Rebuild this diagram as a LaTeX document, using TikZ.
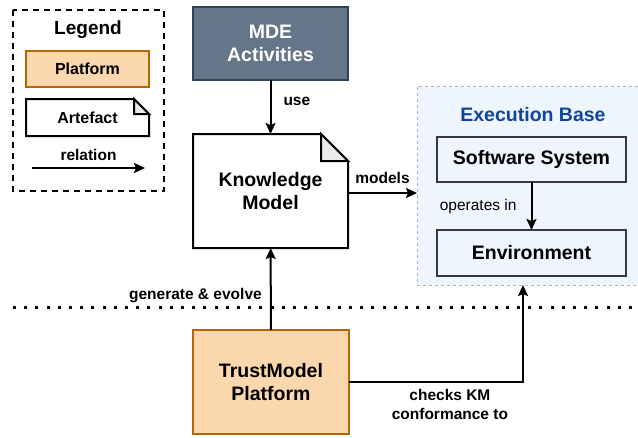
\documentclass[tikz,border=0pt]{standalone}
\usepackage{fontspec}
\setmainfont{Liberation Sans}
\usepackage{xcolor}
\usetikzlibrary{arrows.meta}
\definecolor{platfill}{HTML}{FAD7AC}
\definecolor{platdraw}{HTML}{B46504}
\definecolor{mdefill}{HTML}{647687}
\definecolor{mdedraw}{HTML}{314354}
\definecolor{execfill}{HTML}{EEF5FD}
\definecolor{execdraw}{HTML}{B3B3B3}
\definecolor{sysdraw}{HTML}{36393D}
\definecolor{titleblue}{HTML}{0F4699}
\newcommand{\bigfont}{\fontsize{19.5}{23}\selectfont\bfseries}
\newcommand{\smallfont}{\fontsize{15.5}{19}\selectfont}
% outline of an artefact (note with folded corner)
\newcommand{\drawnote}[2]{%
  \draw[line width=2pt, line join=miter] (#1.north west) -- ([xshift=-#2]#1.north east) -- ([yshift=-#2]#1.north east) -- (#1.south east) -- (#1.south west) -- cycle;
  \draw[line width=2pt, fill=black!8] ([xshift=-#2]#1.north east) -- ([xshift=-#2,yshift=-#2]#1.north east) -- ([yshift=-#2]#1.north east) -- cycle;
}
\tikzset{
    platform/.style = {rectangle, minimum width=156pt, minimum height=104pt, inner sep=0pt, outer sep=0pt, align=center, draw=platdraw, fill=platfill, line width=2pt, font=\bigfont},
    artefact/.style = {rectangle, minimum width=155pt, minimum height=114pt, inner sep=0pt, outer sep=0pt, align=center, font=\bigfont},
    activity/.style = {rectangle, minimum width=155pt, minimum height=73pt, inner sep=0pt, outer sep=0pt, align=center, draw=mdedraw, fill=mdefill, line width=2pt, text=white, font=\bigfont},
    sysbox/.style = {rectangle, minimum width=189pt, minimum height=45pt, inner sep=0pt, outer sep=0pt, align=center, draw=sysdraw, fill=execfill, line width=2.5pt, font=\bigfont},
    container/.style = {rectangle, inner sep=0pt, outer sep=0pt, draw=execdraw, fill=execfill, dashed, line width=1pt},
    lbl/.style = {font=\smallfont\bfseries, align=center, inner sep=0pt},
    arrow/.style = {line width=2pt, -{Stealth[length=11pt, width=10pt, inset=2pt]}}
}
\begin{document}
\begin{tikzpicture}[x=1pt, y=-1pt]
\useasboundingbox (0,0) rectangle (638,437);

% legend
\draw[line width=2pt, dash pattern=on 6pt off 5pt] (13,10) rectangle (164,191);
\node (legtitle) [lbl, font=\fontsize{19}{23}\selectfont\bfseries] at (88,30) {Legend};
\node (legplat) [platform, minimum width=123pt, minimum height=36pt, font=\fontsize{16}{19}\selectfont\bfseries] at (87.5,69) {Platform};
\node (legart) [artefact, minimum width=123pt, minimum height=37pt, font=\fontsize{16}{19}\selectfont\bfseries] at (87.5,117.5) {Artefact};
\drawnote{legart}{15pt}
\coordinate (legfrom) at (32,168);
\coordinate (legto) at (145,168);
\draw [arrow] (legfrom) -- (legto) node[lbl, midway, above=6pt] {relation};

% execution base
\node (exec) [container, minimum width=221pt, minimum height=199pt] at (527.5,185.5) {};
\node (exectitle) [font=\bigfont, text=titleblue, inner sep=0pt] at (533,115) {Execution Base};
\node (sws) [sysbox] at (531.5,159.5) {Software System};
\node (env) [sysbox, minimum height=46pt] at (531.5,253) {Environment};

% main artefacts
\node (mde) [activity] at (270.5,43.5) {MDE\\Activities};
\node (km) [artefact] at (270.5,191) {Knowledge\\Model};
\drawnote{km}{27pt}
\node (tmp) [platform] at (271,382) {TrustModel\\Platform};

% separator
\draw[line width=3pt, dash pattern=on 3pt off 8.2pt] (13,307) -- (638,307);

% relations
\draw [arrow] (mde) -- (km) node[lbl, pos=0.4, right=12pt] {use};
\draw [arrow] (km.east |- 0,193) -- (exec.west |- 0,193) node[lbl, midway, above=8pt] {models};
\draw [arrow] (sws) -- (env) node[midway, left=14pt, font=\smallfont, inner sep=0pt] {operates in};
\draw [arrow] (tmp) -- (km) node[lbl, pos=0.42, left=8pt] {generate \& evolve};
\draw [arrow] (tmp.east) -| (exec.south -| 523,0) node[lbl, pos=0.29, below=6pt] {checks KM\\conformance to};
\end{tikzpicture}
\end{document}
